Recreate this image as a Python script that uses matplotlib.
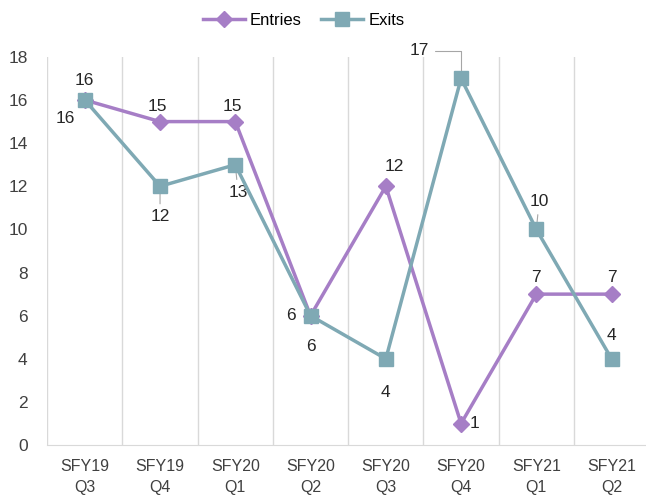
import matplotlib.pyplot as plt

categories = ['SFY19\nQ3', 'SFY19\nQ4', 'SFY20\nQ1', 'SFY20\nQ2',
              'SFY20\nQ3', 'SFY20\nQ4', 'SFY21\nQ1', 'SFY21\nQ2']
entries = [16, 15, 15, 6, 12, 1, 7, 7]
exits = [16, 12, 13, 6, 4, 17, 10, 4]

# label offsets (points)
entries_off = [(-14, -13), (-2, 11), (-2, 11), (-14, 0), (6, 14), (10, 0), (0, 12), (0, 12)]
exits_off = [(0, 14), (0, -22), (2, -20), (0, -22), (0, -24), (-30, 20), (2, 20), (0, 17)]
exits_leader = [False, True, True, False, False, True, True, False]

purple = '#A67EC6'
teal = '#7FA9B4'
grid_c = '#D9D9D9'

plt.rcParams['font.family'] = ['Liberation Sans', 'DejaVu Sans']

fig = plt.figure(figsize=(6.46, 4.99), dpi=100)
ax = fig.add_axes([0.073, 0.108, 0.932, 0.778])

x = list(range(len(categories)))
ax.plot(x, entries, color=purple, lw=2.5, marker='D', ms=8, label='Entries', zorder=3)
ax.plot(x, exits, color=teal, lw=2.5, marker='s', ms=10, label='Exits', zorder=4)

for i in x:
    ax.annotate(str(entries[i]), (i, entries[i]), xytext=entries_off[i],
                textcoords='offset points', ha='center', va='center', fontsize=12.5, color='#262626')
    ap = None
    if exits_leader[i]:
        cs = 'angle,angleA=0,angleB=90,rad=0' if exits[i] == max(exits) else 'arc3'
        ap = dict(arrowstyle='-', color='#A6A6A6', lw=0.8, shrinkA=2, shrinkB=5, connectionstyle=cs)
    ax.annotate(str(exits[i]), (i, exits[i]), xytext=exits_off[i],
                textcoords='offset points', ha='center', va='center', fontsize=12.5,
                color='#262626', arrowprops=ap)

ax.set_xlim(-0.5, len(categories) - 0.5)
ax.set_ylim(0, 18)
ax.set_yticks(range(0, 19, 2))
ax.set_xticks(x)
ax.set_xticklabels(categories, fontsize=11.5, color='#404040', linespacing=1.5)
ax.tick_params(axis='y', labelsize=12.5, colors='#404040', length=0, pad=14)
ax.tick_params(axis='x', length=0, pad=10)

for b in range(len(categories) + 1):
    ax.axvline(b - 0.5, color=grid_c, lw=1, zorder=0)
for s in ['top', 'right', 'left']:
    ax.spines[s].set_visible(False)
ax.spines['bottom'].set_color(grid_c)

leg = fig.legend(loc='upper center', bbox_to_anchor=(0.47, 1.005), ncol=2, frameon=False,
                 fontsize=12, handlelength=2.5, columnspacing=1.2, handletextpad=0.3)

fig.savefig('out.png', dpi=100)
